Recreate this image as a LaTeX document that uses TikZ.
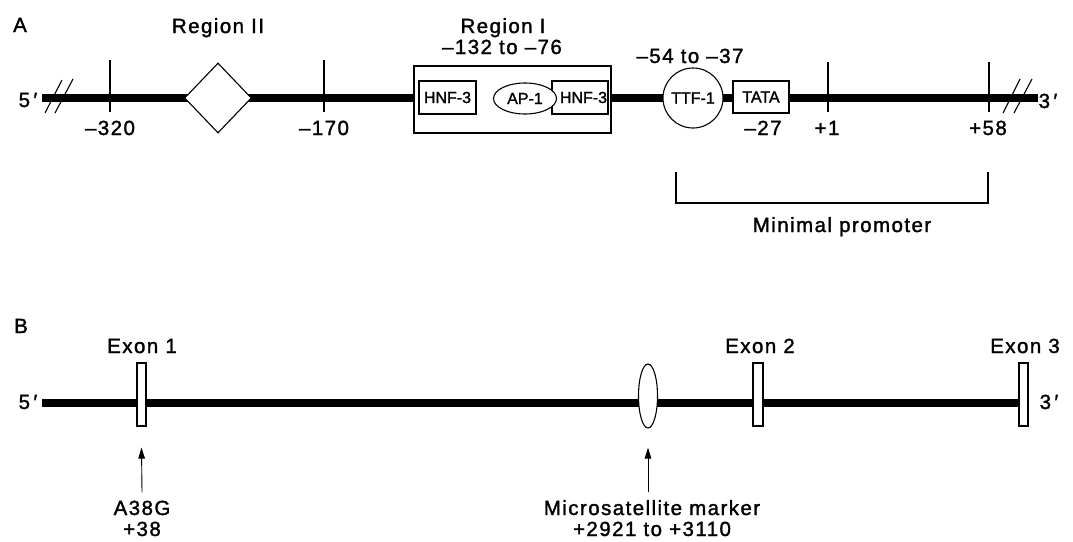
\documentclass[tikz,border=0pt]{standalone}
\usepackage{fontspec}
\setmainfont[FakeBold=1.5]{Liberation Sans}
\newfontfamily\lblfont[FakeBold=1.5,LetterSpace=7]{Liberation Sans}
\usetikzlibrary{shapes.geometric,arrows.meta}
\begin{document}
\begin{tikzpicture}[x=1pt,y=-1pt,
  dna/.style={line width=8pt},
  hair/.style={line width=1.1pt},
  lbl/.style={font=\lblfont\fontsize{20.5}{24}\selectfont, anchor=base, inner sep=0},
  sml/.style={font=\fontsize{16}{18}\selectfont},
  boxs/.style={draw, hair, fill=white, inner sep=0, sml},
  exon/.style={draw, hair, fill=white, inner sep=0, minimum height=63pt},
  arr/.style={line width=0.9pt, -{Triangle[length=11pt,width=6.5pt]}}
]
\useasboundingbox (0,0) rectangle (1073,541);

% ---------------- Panel A ----------------
\node[lbl] (labA) at (20,32) {A};
\coordinate (a5) at (42,98);
\coordinate (a3) at (1038,98);
\draw[dna] (a5) -- (a3);
\node[lbl] (p5a) at (28,107) {5\,\char"2032};
\node[lbl] (p3a) at (1048,108) {3\,\char"2032};

% break marks
\draw[hair] (45,113) -- (62,80);
\draw[hair] (55,113) -- (73,79);
\draw[hair] (1003,113) -- (1020,79);
\draw[hair] (1014,113) -- (1032,79);

% ticks
\draw[hair] (110,60) -- (110,112);
\draw[hair] (324,60) -- (324,112);
\draw[hair] (828,62) -- (828,112);
\draw[hair] (989,62) -- (989,112);
\node[lbl] (tm320) at (110,135) {–320};
\node[lbl] (tm170) at (324,135) {–170};
\node[lbl] (tm27) at (763,135) {–27};
\node[lbl] (tp1) at (827,135) {+1};
\node[lbl] (tp58) at (988,135) {+58};

% Region II
\node[diamond, draw, hair, fill=white, minimum width=67pt, minimum height=70pt, inner sep=0] (d2) at (218,98) {};
\node[lbl] (r2) at (218,33) {Region II};

% Region I
\node[draw, hair, fill=white, minimum width=197pt, minimum height=67pt, inner sep=0] (r1box) at (512.5,99.5) {};
\node[lbl] (r1) at (503,33) {Region I};
\node[lbl] (r1r) at (502,54) {–132 to –76};
\node[boxs, minimum width=57pt, minimum height=33pt] (h1) at (447.5,97.5) {HNF-3};
\node[draw, hair, fill=white, inner sep=0, minimum width=56pt, minimum height=33pt] (h2) at (580,97.5) {};
\node[ellipse, draw, hair, fill=white, minimum width=63pt, minimum height=31pt, inner sep=0, sml] (ap1) at (525,98.5) {AP-1};
\node[sml, anchor=base, inner sep=0] (h2t) at (583.5,103) {HNF-3};

% TTF-1 and TATA
\node[circle, draw, hair, fill=white, minimum size=60pt, inner sep=0, sml] (ttf) at (693,98) {TTF-1};
\node[lbl] (ttfr) at (690,63) {–54 to –37};
\node[boxs, minimum width=56pt, minimum height=32pt] (tata) at (761,97) {TATA};

% minimal promoter bracket
\coordinate (mpL) at (676,172);
\coordinate (mpR) at (988,172);
\draw[hair] (mpL) -- (676,203) -- (988,203) -- (mpR);
\node[lbl] (mp) at (842,232) {Minimal promoter};

% ---------------- Panel B ----------------
\node[lbl] (labB) at (21,333) {B};
\coordinate (b5) at (42,403);
\coordinate (b3) at (1019,403);
\draw[dna] (b5) -- (b3);
\node[lbl] (p5b) at (28,409) {5\,\char"2032};
\node[lbl] (p3b) at (1049,409) {3\,\char"2032};

\node[exon, minimum width=9pt] (ex1) at (141.5,394.5) {};
\node[exon, minimum width=10pt] (ex2) at (758,394.5) {};
\node[exon, minimum width=9pt] (ex3) at (1023.5,394.5) {};
\node[lbl] (ex1t) at (142,353) {Exon 1};
\node[lbl] (ex2t) at (760,353) {Exon 2};
\node[lbl] (ex3t) at (1025,353) {Exon 3};

\node[ellipse, draw, hair, fill=white, minimum width=19pt, minimum height=64pt, inner sep=0] (sat) at (648,396) {};

\node[lbl] (a38) at (142,515) {A38G};
\node[lbl] (p38) at (142,536) {+38};
\draw[arr] ([yshift=8pt]a38.north) -- ([yshift=-21pt]ex1.south);

\node[lbl] (ms) at (652,515) {Microsatellite marker};
\node[lbl] (msr) at (652,536) {+2921 to +3110};
\draw[arr] ([xshift=-4pt,yshift=8pt]ms.north) -- ([yshift=-19pt]sat.south);
\end{tikzpicture}
\end{document}
